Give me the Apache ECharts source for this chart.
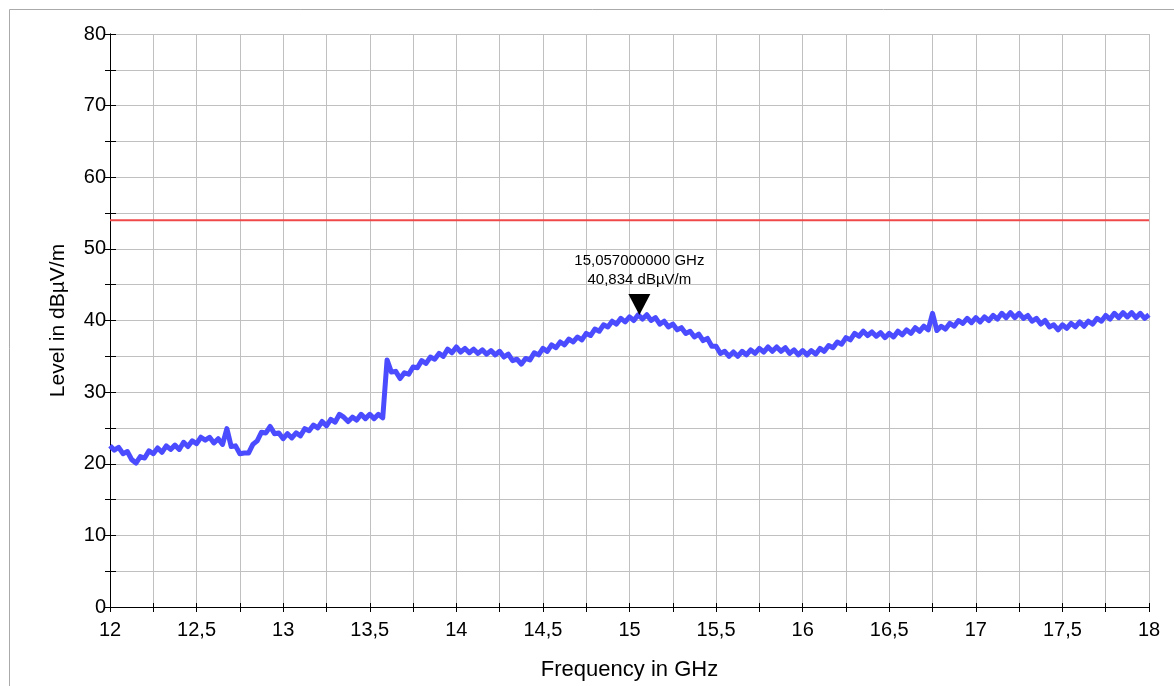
<!DOCTYPE html>
<html>
<head>
<meta charset="utf-8">
<script src="https://cdn.jsdelivr.net/npm/echarts@6/dist/echarts.min.js"></script>
<style>
html,body{margin:0;padding:0;background:#fff;}
#chart{width:1174px;height:686px;}
</style>
</head>
<body>
<div id="chart"></div>
<script>
var traceStartGHz = 12;
var traceStepGHz = 0.025;
var traceLevel = [
  22.5,21.9,22.3,21.4,21.7,20.6,20.1,21.0,20.8,21.8,
  21.4,22.2,21.6,22.5,22.0,22.6,22.0,23.0,22.4,23.2,
  22.8,23.7,23.3,23.7,22.9,23.5,22.7,24.9,22.4,22.5,
  21.4,21.5,21.5,22.7,23.2,24.4,24.3,25.2,24.2,24.3,
  23.5,24.2,23.6,24.3,23.9,24.9,24.6,25.4,25.0,25.9,
  25.3,26.2,25.8,26.9,26.5,25.9,26.5,26.1,26.9,26.3,
  26.9,26.3,26.9,26.4,34.5,32.8,32.9,31.9,32.7,32.5,
  33.5,33.4,34.4,34.0,34.9,34.6,35.4,35.0,36.0,35.5,
  36.3,35.6,36.1,35.5,36.0,35.4,35.9,35.3,35.8,35.2,
  35.7,34.9,35.3,34.4,34.6,33.9,34.7,34.5,35.5,35.2,
  36.1,35.7,36.6,36.2,37.0,36.6,37.4,37.0,37.7,37.3,
  38.2,37.9,38.8,38.5,39.4,39.1,39.9,39.5,40.3,39.8,
  40.5,40.0,40.8,40.2,40.8,40.0,40.4,39.5,39.9,39.1,
  39.5,38.7,39.0,38.2,38.5,37.7,38.1,37.2,37.5,36.4,
  36.4,35.4,35.7,35.0,35.6,35.0,35.7,35.2,35.9,35.4,
  36.1,35.6,36.3,35.7,36.3,35.7,36.2,35.4,35.9,35.2,
  35.8,35.2,35.8,35.3,36.1,35.7,36.5,36.2,37.0,36.7,
  37.6,37.3,38.2,37.8,38.5,37.9,38.4,37.8,38.3,37.6,
  38.2,37.7,38.5,38.0,38.7,38.2,39.0,38.5,39.2,38.7,
  41.0,38.6,39.2,38.8,39.6,39.2,40.0,39.6,40.3,39.7,
  40.4,39.8,40.5,40.0,40.7,40.2,41.0,40.4,41.1,40.4,
  41.0,40.3,40.7,39.9,40.3,39.5,40.0,39.1,39.4,38.7,
  39.4,38.9,39.6,39.1,39.8,39.2,39.9,39.5,40.3,39.9,
  40.7,40.2,41.0,40.4,41.1,40.5,41.1,40.4,41.0,40.3,
  40.8
];
// Limit line
var limitFreq = [12, 18];
var limitLevel = [54, 54];
// Marker
var markerFreq = [15.057];
var markerLevel = [40.834];
var markerText = ['15,057000000 GHz', '40,834 dBµV/m'];
// Axes
var xMin = 12, xMax = 18, xStep = 0.25, xLabelStep = 0.5;
var yMin = 0, yMax = 80, yStep = 5, yLabelStep = 10;
var xTitle = 'Frequency in GHz';
var yTitle = 'Level in dBµV/m';

var traceFreq = traceLevel.map(function (_, i) { return +(traceStartGHz + i * traceStepGHz).toFixed(3); });
function zip(a, b) { return a.map(function (v, i) { return [v, b[i]]; }); }
function isMult(v, s) { return Math.abs(v / s - Math.round(v / s)) < 1e-6; }

var FONT = 'Liberation Sans, Arial, sans-serif';
var chart = echarts.init(document.getElementById('chart'), null, {renderer: 'canvas'});

var baseX = {
  type: 'value', min: xMin, max: xMax, interval: xStep, position: 'bottom',
  axisLine: {show: true, onZero: false, lineStyle: {color: '#000', width: 1}},
  splitLine: {show: true, lineStyle: {color: '#c0c0c0', width: 1}}
};
var baseY = {
  type: 'value', min: yMin, max: yMax, interval: yStep, position: 'left',
  axisLine: {show: true, onZero: false, lineStyle: {color: '#000', width: 1}},
  splitLine: {show: true, lineStyle: {color: '#c0c0c0', width: 1}}
};

var option = {
  animation: false,
  backgroundColor: '#fff',
  textStyle: {fontFamily: FONT},
  graphic: [{
    type: 'rect', left: 7, top: 7, silent: true,
    shape: {width: 1190, height: 678},
    style: {fill: 'none', stroke: '#aaaaaa', lineWidth: 1}
  }],
  grid: {left: 110, right: 25, top: 34, bottom: 77, containLabel: false},
  xAxis: [
    Object.assign({}, baseX, {
      name: xTitle, nameLocation: 'middle', nameGap: 52,
      nameTextStyle: {fontSize: 22, color: '#000', fontFamily: FONT},
      axisTick: {show: true, inside: false, length: 5, lineStyle: {color: '#000'}},
      axisLabel: {show: true, margin: 13, fontSize: 20, color: '#000', fontFamily: FONT,
        formatter: function (v) { return isMult(v, xLabelStep) ? String(v).replace('.', ',') : ''; }}
    }),
    Object.assign({}, baseX, {
      splitLine: {show: false},
      axisTick: {show: true, inside: true, length: 4, lineStyle: {color: '#000'}},
      axisLabel: {show: false}
    })
  ],
  yAxis: [
    Object.assign({}, baseY, {
      name: yTitle, nameLocation: 'middle', nameGap: 41,
      nameTextStyle: {fontSize: 21, color: '#000', fontFamily: FONT},
      axisTick: {show: true, inside: false, length: 5, lineStyle: {color: '#000'}},
      axisLabel: {show: true, margin: 4, fontSize: 20, color: '#000', fontFamily: FONT,
        formatter: function (v) { return isMult(v, yLabelStep) ? String(v) : ''; }}
    }),
    Object.assign({}, baseY, {
      splitLine: {show: false},
      axisTick: {show: true, inside: true, length: 6, lineStyle: {color: '#000'}},
      axisLabel: {show: false}
    })
  ],
  series: [
    {
      name: 'Limit', type: 'line', xAxisIndex: 0, yAxisIndex: 0,
      data: zip(limitFreq, limitLevel), showSymbol: false, symbol: 'none',
      lineStyle: {color: '#f04848', width: 2}, z: 3
    },
    {
      name: 'Trace', type: 'line', xAxisIndex: 0, yAxisIndex: 0,
      data: zip(traceFreq, traceLevel), showSymbol: false, symbol: 'none',
      lineStyle: {color: '#4b4bff', width: 5, join: 'round'}, z: 4
    },
    {
      name: 'Marker', type: 'scatter', xAxisIndex: 0, yAxisIndex: 0,
      data: zip(markerFreq, markerLevel),
      symbol: 'path://M0,0 L22,0 L11,21 Z', symbolSize: [22, 21], symbolOffset: [0, -10],
      itemStyle: {color: '#000', opacity: 1}, z: 6,
      label: {show: true, position: 'top', distance: 5, color: '#000', fontSize: 15, lineHeight: 19,
        fontFamily: FONT, align: 'center',
        formatter: function () { return markerText.join('\n'); }}
    }
  ]
};
chart.setOption(option);
</script>
</body>
</html>
